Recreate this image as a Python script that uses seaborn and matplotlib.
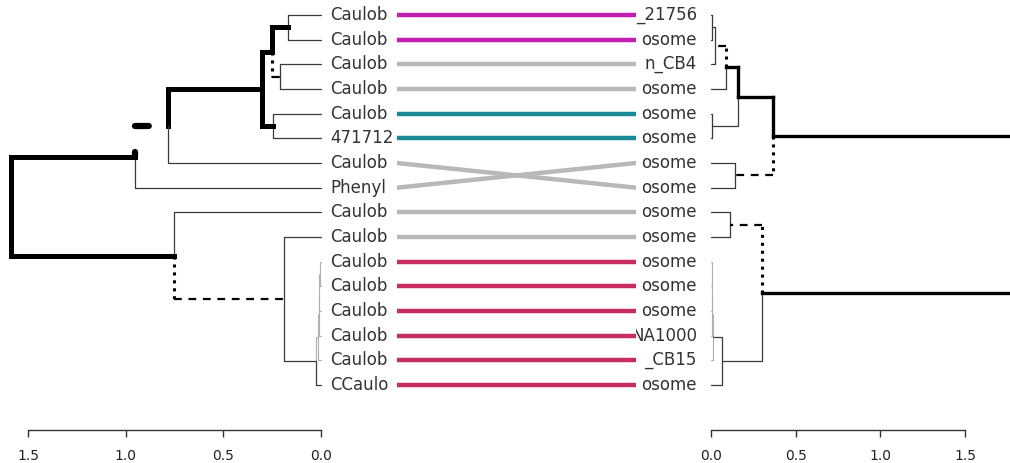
import numpy as np
import pandas as pd
import matplotlib
matplotlib.use("Agg")
import matplotlib.pyplot as plt
import seaborn as sns

# =====================================
# Data
# =====================================

# visible part of each leaf label (the rest is hidden under the link panel)
left_labels = [
    "Caulob", "Caulob", "Caulob", "Caulob", "Caulob", "471712", "Caulob", "Phenyl",
    "Caulob", "Caulob", "Caulob", "Caulob", "Caulob", "Caulob", "Caulob", "CCaulo",
]
right_labels = [
    "_21756", "osome", "n_CB4", "osome", "osome", "osome", "osome", "osome",
    "osome", "osome", "osome", "osome", "osome", "NA1000", "_CB15", "osome",
]

# left leaf index shown on each row of the right tree
right_order = [0, 1, 2, 3, 4, 5, 7, 6, 8, 9, 10, 11, 12, 13, 14, 15]

link_group = ["magenta", "magenta", "gray", "gray", "teal", "teal", "gray", "gray",
              "gray", "gray", "crimson", "crimson", "crimson", "crimson", "crimson", "crimson"]

# merges: (child a, child b) -> node 16, 17, ...
left_merges = [(0, 1), (2, 3), (16, 17), (4, 5), (18, 19), (20, 6), (21, 7),
               (10, 11), (23, 12), (24, 13), (25, 14), (26, 15), (9, 27), (8, 28), (22, 29)]
left_heights = [0.17, 0.21, 0.25, 0.245, 0.30, 0.785, 0.95,
                0.005, 0.008, 0.011, 0.014, 0.025, 0.19, 0.753, 1.585]
# style of the edge above each node (leaves 0-15, then merges 16-29)
left_edges = (["leaf"] * 10 + ["faint"] * 5 + ["leaf"]
              + ["thick", "dist", "thick", "thick", "thick", "bigdot", "thick",
                 "faint", "faint", "faint", "faint", "leaf", "dist", "thick"])

right_merges = [(0, 1), (16, 2), (17, 3), (4, 5), (18, 19), (6, 7), (20, 21),
                (8, 9), (10, 11), (24, 12), (25, 13), (26, 14), (27, 15), (23, 28), (22, 29)]
right_heights = [0.003, 0.025, 0.089, 0.006, 0.16, 0.142, 0.366,
                 0.112, 0.003, 0.005, 0.007, 0.01, 0.065, 0.30, 1.80]
right_edges = (["leaf"] * 10 + ["faint"] * 5 + ["leaf"]
               + ["leaf", "dist", "thick", "leaf", "thick", "dist", "thick",
                  "dist", "faint", "faint", "faint", "leaf", "leaf", "thick"])

axis_ticks = [0.0, 0.5, 1.0, 1.5]

palette = {"magenta": "#C21FB0", "teal": "#1A8A96", "gray": "#B8B8B8", "crimson": "#C72D5E"}

# =====================================
# Helpers
# =====================================

def node_positions(merges, heights):
    ypos = {i: float(i) for i in range(16)}
    hpos = {i: 0.0 for i in range(16)}
    parent = {}
    for k, (a, b) in enumerate(merges):
        n = 16 + k
        ypos[n] = (ypos[a] + ypos[b]) / 2
        hpos[n] = heights[k]
        parent[a] = n
        parent[b] = n
    return ypos, hpos, parent


def draw_tree(ax, merges, heights, edges, thick_lw):
    ypos, hpos, parent = node_positions(merges, heights)
    for n, p in parent.items():
        st = edges[n]
        xv, y0, y1 = hpos[p], ypos[p], ypos[n]
        xs = [hpos[p], hpos[n]]
        if st == "thick":
            kw = dict(color="black", lw=thick_lw, solid_capstyle="projecting")
            ax.plot([xv, xv], [y0, y1], **kw)
            ax.plot(xs, [y1, y1], **kw)
        elif st == "leaf":
            kw = dict(color="#3a3a3a", lw=0.9)
            ax.plot([xv, xv], [y0, y1], **kw)
            ax.plot(xs, [y1, y1], **kw)
        elif st == "faint":
            kw = dict(color="#b0b0b0", lw=0.8)
            ax.plot([xv, xv], [y0, y1], **kw)
            ax.plot(xs, [y1, y1], **kw)
        elif st == "dist":
            ax.plot([xv, xv], [y0, y1], color="black", lw=2.2,
                    linestyle=(0, (1, 1.6)))
            ax.plot(xs, [y1, y1], color="black", lw=1.6,
                    linestyle=(0, (3.5, 3)))
        elif st == "bigdot":
            ax.plot([xv, xv], [y0, y1], color="black", lw=4.5,
                    linestyle=(0, (0.8, 6)), dash_capstyle="round")
            ax.plot(xs, [y1, y1], color="black", lw=4.5,
                    linestyle=(0, (2.2, 6)), dash_capstyle="round")


def style_axis(ax):
    for s in ["top", "left", "right"]:
        ax.spines[s].set_visible(False)
    ax.spines["bottom"].set_position(("data", 16.82))
    ax.spines["bottom"].set_bounds(0, 1.5)
    ax.spines["bottom"].set_color("#333333")
    ax.spines["bottom"].set_linewidth(1.0)
    ax.set_xticks(axis_ticks)
    ax.set_xticklabels([f"{t:.1f}" for t in axis_ticks])
    ax.tick_params(axis="x", bottom=True, direction="out", length=5, width=1.0,
                   color="#333333", pad=8.5, labelsize=10, labelcolor="#222222")
    ax.set_yticks([])
    ax.set_ylim(18.16, -0.608)
    ax.patch.set_visible(False)


# =====================================
# Figure
# =====================================

sns.set_style("white")
plt.rcParams["font.family"] = ["DejaVu Sans"]

fig = plt.figure(figsize=(10.1, 4.63), dpi=100)
xl, xr = 397 / 1010, 636 / 1010
ax_l = fig.add_axes([0, 0, xl, 1])
ax_m = fig.add_axes([xl, 0, xr - xl, 1])
ax_r = fig.add_axes([xr, 0, 1 - xr, 1])

# left tree
draw_tree(ax_l, left_merges, left_heights, left_edges, thick_lw=3.6)
ax_l.set_xlim(1.643, -0.389)
style_axis(ax_l)
for i, lab in enumerate(left_labels):
    ax_l.text(-0.046, i, lab, ha="left", va="center", fontsize=12,
              color="#333333", clip_on=True)

# right tree
draw_tree(ax_r, right_merges, right_heights, right_edges, thick_lw=2.4)
ax_r.set_xlim(-0.443, 1.766)
style_axis(ax_r)
for j, lab in enumerate(right_labels):
    ax_r.text(-0.083, j, lab, ha="right", va="center", fontsize=12,
              color="#333333", clip_on=True)

# connecting lines
rows = []
for j, li in enumerate(right_order):
    rows.append({"x": 0.0, "y": li, "link": li, "group": link_group[li]})
    rows.append({"x": 1.0, "y": j, "link": li, "group": link_group[li]})
links = pd.DataFrame(rows)

sns.lineplot(data=links, x="x", y="y", units="link", hue="group",
             estimator=None, palette=palette, lw=3.2, legend=False,
             sort=False, ax=ax_m)
ax_m.set_xlim(0, 1)
ax_m.set_ylim(18.16, -0.608)
ax_m.set_axis_off()

fig.savefig("out.png", dpi=100)
